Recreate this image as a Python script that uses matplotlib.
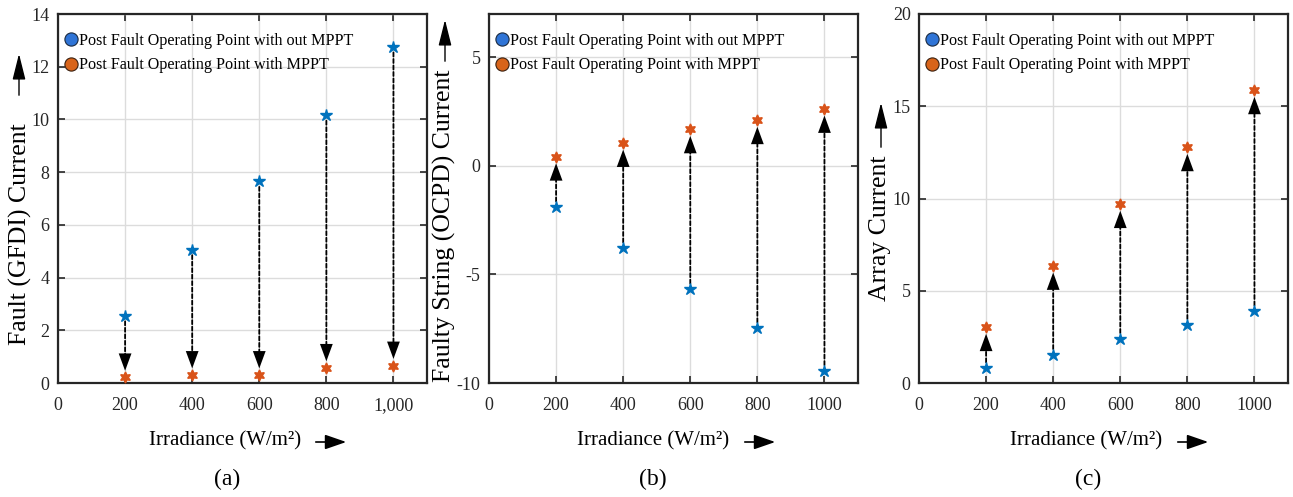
import matplotlib
matplotlib.use("Agg")
import matplotlib.pyplot as plt
from matplotlib.lines import Line2D
from matplotlib.patches import FancyArrowPatch

plt.rcParams['font.family'] = ['Liberation Serif', 'DejaVu Serif']
plt.rcParams['axes.unicode_minus'] = False

# ---------------- data ----------------
irradiance = [200, 400, 600, 800, 1000]

# (a) Fault (GFDI) current
gfdi_without = [2.55, 5.06, 7.65, 10.16, 12.75]
gfdi_with = [0.21, 0.30, 0.30, 0.57, 0.66]

# (b) Faulty string (OCPD) current
ocpd_without = [-1.89, -3.78, -5.68, -7.46, -9.43]
ocpd_with = [0.43, 1.06, 1.69, 2.11, 2.63]

# (c) Array current
array_without = [0.82, 1.54, 2.41, 3.17, 3.90]
array_with = [3.03, 6.35, 9.70, 12.78, 15.87]

xticks = [0, 200, 400, 600, 800, 1000]
xticklabels_a = ['0', '200', '400', '600', '800', '1,000']
xticklabels_bc = ['0', '200', '400', '600', '800', '1000']

yticks_a = [0, 2, 4, 6, 8, 10, 12, 14]
yticks_b = [-10, -5, 0, 5]
yticks_c = [0, 5, 10, 15, 20]

legend_labels = ['Post Fault Operating Point with out MPPT',
                 'Post Fault Operating Point with MPPT']
ylabels = ['Fault (GFDI) Current', 'Faulty String (OCPD) Current', 'Array Current']
xlabel = 'Irradiance (W/m\u00b2)'
panel_tags = ['(a)', '(b)', '(c)']

BLUE = '#0072BD'
ORANGE = '#D95319'
LEG_BLUE = '#2f74d6'
LEG_ORANGE = '#d8641a'
SPINE = '#262626'

W, H = 1293, 497
fig = plt.figure(figsize=(W / 100, H / 100), dpi=100)


def px(x, y):
    return (x / W, 1 - y / H)


panels = [
    dict(left=58, yw=gfdi_without, yc=gfdi_with, ylim=(0, 14), yt=yticks_a,
         xtl=xticklabels_a),
    dict(left=489, yw=ocpd_without, yc=ocpd_with, ylim=(-10, 7), yt=yticks_b,
         xtl=xticklabels_bc),
    dict(left=919, yw=array_without, yc=array_with, ylim=(0, 20), yt=yticks_c,
         xtl=xticklabels_bc),
]

HEAD_LEN = 1.25
HEAD_W = 0.46
MS = 10
SHRINK_B = 4.8

for p in panels:
    l, b = px(p['left'], 383)
    ax = fig.add_axes([l, b, 369 / W, (383 - 14) / H])
    ax.set_xlim(0, 1100)
    ax.set_ylim(*p['ylim'])
    ax.set_xticks(xticks)
    ax.set_xticklabels(p['xtl'])
    ax.set_yticks(p['yt'])
    ax.grid(True, color='#dcdcdc', lw=1.0)
    ax.set_axisbelow(True)
    for s in ax.spines.values():
        s.set_color(SPINE)
        s.set_linewidth(1.6)
    ax.tick_params(direction='in', top=True, right=True, length=5, width=1.2,
                   colors=SPINE, labelsize=13)
    ax.tick_params(axis='x', pad=10)
    ax.tick_params(axis='y', pad=6)

    # arrows from "without" to "with": dashed shaft + solid filled head
    for x, y0, y1 in zip(irradiance, p['yw'], p['yc']):
        ax.annotate('', xy=(x, y1), xytext=(x, y0),
                    arrowprops=dict(arrowstyle='-', color='black', lw=1.3,
                                    linestyle=(0, (2.2, 1.4)),
                                    shrinkA=4, shrinkB=SHRINK_B + HEAD_LEN * MS * 0.8),
                    zorder=3)
        ax.annotate('', xy=(x, y1), xytext=(x, y0),
                    arrowprops=dict(arrowstyle=f'-|>,head_length={HEAD_LEN},head_width={HEAD_W}',
                                    mutation_scale=MS, color='black', lw=0,
                                    shrinkA=4, shrinkB=SHRINK_B),
                    zorder=3)
    ax.plot(irradiance, p['yw'], linestyle='none', marker='*', ms=9,
            color=BLUE, mec=BLUE, zorder=4)
    ax.plot(irradiance, p['yc'], linestyle='none', marker=(6, 1, 0), ms=8,
            color=ORANGE, mec=ORANGE, zorder=4)

    handles = [Line2D([], [], ls='none', marker='o', ms=9.5, mfc=LEG_BLUE, mec='#1a2a40', mew=0.8),
               Line2D([], [], ls='none', marker='o', ms=9.5, mfc=LEG_ORANGE, mec='#3a2010', mew=0.8)]
    ax.legend(handles, legend_labels, loc='upper left', bbox_to_anchor=(0.0, 0.97),
              frameon=False, fontsize=11.6, handlelength=0.6, handletextpad=0.2,
              labelspacing=0.5, borderaxespad=0.3, borderpad=0.2)

# y labels and their arrows
ylab_pos = [(20, 234), (444, 226), (880, 228)]
yarrows = [((19, 98), (19, 51)), ((445, 64), (445, 17)), ((881, 150), (881, 100))]
for text, (x, y), ((x0, y0), (x1, y1)) in zip(ylabels, ylab_pos, yarrows):
    fig.text(*px(x, y), text, rotation=90, ha='center', va='center', fontsize=18.5,
             color='black')
    fig.add_artist(FancyArrowPatch(
        px(x0, y0), px(x1, y1), transform=fig.transFigure,
        arrowstyle='-|>,head_length=1.6,head_width=0.4', mutation_scale=10,
        color='black', lw=1.0))

# x labels, arrows and panel tags
xlab_x = [225, 653, 1086]
xarrows = [(313, 349), (742, 778), (1175, 1211)]
tag_x = [227, 653, 1088]
for i in range(3):
    fig.text(*px(xlab_x[i], 441), xlabel, ha='center', va='center', fontsize=15)
    x0, x1 = xarrows[i]
    fig.add_artist(FancyArrowPatch(
        px(x0, 442), px(x1, 442), transform=fig.transFigure,
        arrowstyle='-|>,head_length=1.3,head_width=0.45', mutation_scale=10,
        color='black', lw=1.2))
    fig.text(*px(tag_x[i], 479), panel_tags[i], ha='center', va='center', fontsize=17)

fig.savefig('out.png', dpi=100)
